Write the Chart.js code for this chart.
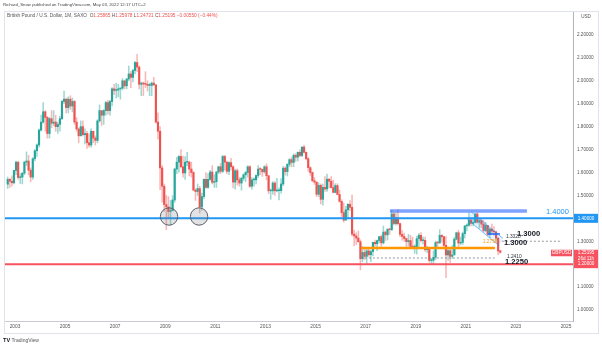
<!DOCTYPE html>
<html>
<head>
<meta charset="utf-8">
<script src="https://cdn.jsdelivr.net/npm/chart.js@4.4.1/dist/chart.umd.min.js"></script>
<style>
  body { margin: 0; background: #fff; font-family: "Liberation Sans", Arial, sans-serif; }
  #wrap { position: relative; width: 602px; height: 346px; overflow: hidden; }
  #chart { position: absolute; left: 0; top: 0; }
  .txt { position: absolute; white-space: nowrap; line-height: 1; }
  #pub { left: 3px; top: 3px; font-size: 4.3px; color: #444; }
  #legend { left: 7px; top: 14px; font-size: 4.75px; color: #555; }
  #legend .v { color: #ef5350; }
  #foot { left: 3px; top: 338px; font-size: 5px; color: #555; }
  #foot b { color: #131722; font-size: 5.6px; }
</style>
</head>
<body>
<div id="wrap">
  <canvas id="chart" width="602" height="346"></canvas>
  <div class="txt" id="pub">Richard_Snow published on TradingView.com, May 03, 2022 12:17 UTC+2</div>
  <div class="txt" id="legend">British Pound / U.S. Dollar, 1M, SAXO&nbsp; O<span class="v">1.25865</span> H<span class="v">1.25978</span> L<span class="v">1.24731</span> C<span class="v">1.25195</span> <span class="v">−0.00550 (−0.44%)</span></div>
  <div class="txt" id="foot"><b>TV</b> TradingView</div>
</div>
<script>
// GBP/USD monthly candles, Sep 2002 .. May 2022
const firstYear = 2002, firstMonth = 8; // September

const opens = [
  1.5490, 1.5700, 1.5620, 1.5550,
  1.6090, 1.6450, 1.5780, 1.5800, 1.5970, 1.6450, 1.6500, 1.6100, 1.5800, 1.6600, 1.6950, 1.7200,
  1.7850, 1.8200, 1.8650, 1.8400, 1.7700, 1.8350, 1.8150, 1.8200, 1.8000, 1.8100, 1.8350, 1.9100,
  1.9200, 1.8830, 1.9200, 1.8900, 1.9100, 1.8200, 1.7900, 1.7600, 1.8000, 1.7650, 1.7700, 1.7300,
  1.7200, 1.7800, 1.7500, 1.7400, 1.8250, 1.8700, 1.8500, 1.8700, 1.9050, 1.8700, 1.9100, 1.9650,
  1.9580, 1.9600, 1.9650, 1.9680, 2.0000, 1.9780, 2.0080, 2.0300, 2.0150, 2.0450, 2.0800, 2.0600,
  1.9850, 1.9900, 1.9860, 1.9850, 1.9800, 1.9800, 1.9900, 1.9820, 1.8200, 1.7800, 1.6200, 1.5400,
  1.4600, 1.4500, 1.4300, 1.4330, 1.4800, 1.6150, 1.6450, 1.6700, 1.6250, 1.5980, 1.6450, 1.6450,
  1.6150, 1.6000, 1.5230, 1.5170, 1.5300, 1.4500, 1.4950, 1.5700, 1.5350, 1.5700, 1.6020, 1.5570,
  1.5600, 1.6020, 1.6250, 1.6050, 1.6700, 1.6450, 1.6050, 1.6430, 1.6250, 1.5580, 1.6080, 1.5680,
  1.5540, 1.5750, 1.5900, 1.6000, 1.6250, 1.5400, 1.5680, 1.5680, 1.5870, 1.6150, 1.6140, 1.6030,
  1.6250, 1.5860, 1.5200, 1.5200, 1.5540, 1.5200, 1.5210, 1.5210, 1.5500, 1.6190, 1.6040, 1.6360,
  1.6560, 1.6440, 1.6750, 1.6670, 1.6880, 1.6740, 1.7110, 1.6880, 1.6600, 1.6210, 1.6000, 1.5640,
  1.5580, 1.5050, 1.5440, 1.4830, 1.5350, 1.5280, 1.5710, 1.5620, 1.5340, 1.5130, 1.5430, 1.5040,
  1.4740, 1.4250, 1.3920, 1.4370, 1.4610, 1.4480, 1.3310, 1.3230, 1.3140, 1.2980, 1.2240, 1.2510,
  1.2340, 1.2580, 1.2410, 1.2550, 1.2950, 1.2890, 1.3030, 1.3200, 1.2930, 1.3400, 1.3280, 1.3520,
  1.3510, 1.4190, 1.3770, 1.4020, 1.3770, 1.3300, 1.3210, 1.3120, 1.2980, 1.3030, 1.2770, 1.2750,
  1.2760, 1.3110, 1.3260, 1.3030, 1.3040, 1.2630, 1.2700, 1.2160, 1.2170, 1.2300, 1.2940, 1.2930,
  1.3260, 1.3200, 1.2820, 1.2400, 1.2590, 1.2340, 1.2400, 1.3090, 1.3370, 1.2920, 1.2950, 1.3330,
  1.3670, 1.3700, 1.3930, 1.3780, 1.3820, 1.4190, 1.3830, 1.3900, 1.3750, 1.3470, 1.3690, 1.3300,
  1.3530, 1.3440, 1.3410, 1.3130, 1.25865
];
const highs = [
  1.5800, 1.5750, 1.5850, 1.6100,
  1.6500, 1.6500, 1.5950, 1.6000, 1.6500, 1.6900, 1.6750, 1.6200, 1.6650, 1.7000, 1.7250, 1.7900,
  1.8500, 1.9050, 1.8700, 1.8450, 1.8400, 1.8700, 1.8700, 1.8500, 1.8200, 1.8450, 1.9150, 1.9550,
  1.9250, 1.9300, 1.9350, 1.9250, 1.9150, 1.8400, 1.7950, 1.8250, 1.8250, 1.7900, 1.7800, 1.7700,
  1.7900, 1.7800, 1.7600, 1.8300, 1.8950, 1.8700, 1.8750, 1.9100, 1.9150, 1.9150, 1.9700, 1.9850,
  1.9900, 1.9850, 1.9700, 2.0100, 2.0000, 2.0100, 2.0650, 2.0400, 2.0500, 2.0850, 2.1160, 2.0650,
  1.9950, 1.9950, 2.0400, 2.0000, 1.9900, 1.9950, 2.0150, 1.9850, 1.8600, 1.8000, 1.6300, 1.5500,
  1.5000, 1.4950, 1.4780, 1.4990, 1.6190, 1.6660, 1.6740, 1.7000, 1.6720, 1.6700, 1.6880, 1.6500,
  1.6450, 1.6050, 1.5300, 1.5500, 1.5400, 1.5100, 1.5720, 1.6000, 1.5950, 1.6100, 1.6300, 1.5900,
  1.6050, 1.6280, 1.6400, 1.6750, 1.6750, 1.6500, 1.6480, 1.6620, 1.6300, 1.6150, 1.6160, 1.5780,
  1.5800, 1.5950, 1.6050, 1.6300, 1.6300, 1.5780, 1.5770, 1.5900, 1.6300, 1.6220, 1.6150, 1.6300,
  1.6380, 1.5870, 1.5280, 1.5600, 1.5600, 1.5750, 1.5330, 1.5730, 1.6260, 1.6250, 1.6380, 1.6600,
  1.6670, 1.6820, 1.6820, 1.6900, 1.6990, 1.7120, 1.7190, 1.6900, 1.6650, 1.6250, 1.6020, 1.5780,
  1.5590, 1.5550, 1.5500, 1.5500, 1.5820, 1.5930, 1.5740, 1.5820, 1.5660, 1.5510, 1.5510, 1.5240,
  1.4810, 1.4670, 1.4520, 1.4640, 1.4770, 1.5020, 1.3480, 1.3370, 1.3450, 1.3060, 1.2770, 1.2700,
  1.2700, 1.2710, 1.2620, 1.2960, 1.3050, 1.3050, 1.3210, 1.3270, 1.3660, 1.3450, 1.3550, 1.3550,
  1.4350, 1.4250, 1.4240, 1.4380, 1.3790, 1.3470, 1.3360, 1.3150, 1.3300, 1.3260, 1.3180, 1.2840,
  1.3220, 1.3350, 1.3380, 1.3190, 1.3180, 1.2780, 1.2660, 1.2250, 1.2580, 1.3010, 1.2990, 1.3510,
  1.3280, 1.3200, 1.3200, 1.2650, 1.2650, 1.2810, 1.3170, 1.3400, 1.3480, 1.3180, 1.3400, 1.3680,
  1.3760, 1.4240, 1.4000, 1.4010, 1.4220, 1.4250, 1.3980, 1.3960, 1.3910, 1.3830, 1.3700, 1.3550,
  1.3750, 1.3640, 1.3440, 1.3170, 1.25978
];
const lows = [
  1.5300, 1.5350, 1.5400, 1.5500,
  1.5900, 1.5700, 1.5520, 1.5500, 1.5900, 1.6300, 1.5900, 1.5600, 1.5700, 1.6500, 1.6700, 1.7100,
  1.7800, 1.8150, 1.7800, 1.7500, 1.7500, 1.7950, 1.8050, 1.7800, 1.7700, 1.7800, 1.8300, 1.9000,
  1.8600, 1.8600, 1.8750, 1.8650, 1.8100, 1.7800, 1.7300, 1.7600, 1.7600, 1.7250, 1.7050, 1.7100,
  1.7100, 1.7300, 1.7200, 1.7300, 1.8200, 1.8050, 1.8100, 1.8500, 1.8550, 1.8500, 1.8900, 1.9400,
  1.9250, 1.9300, 1.9200, 1.9600, 1.9650, 1.9650, 2.0000, 1.9700, 1.9950, 2.0300, 2.0400, 1.9650,
  1.9350, 1.9350, 1.9700, 1.9550, 1.9350, 1.9350, 1.9800, 1.8150, 1.7450, 1.5250, 1.4700, 1.4300,
  1.3500, 1.3980, 1.3700, 1.4350, 1.4700, 1.5950, 1.6000, 1.6200, 1.5800, 1.5700, 1.6300, 1.5850,
  1.5800, 1.5200, 1.4780, 1.5000, 1.4230, 1.4350, 1.4850, 1.5300, 1.5300, 1.5650, 1.5500, 1.5350,
  1.5350, 1.5950, 1.5950, 1.6000, 1.6100, 1.5950, 1.5900, 1.6100, 1.5330, 1.5270, 1.5450, 1.5400,
  1.5230, 1.5650, 1.5600, 1.5800, 1.5350, 1.5270, 1.5400, 1.5500, 1.5780, 1.5900, 1.5830, 1.5970,
  1.5680, 1.5080, 1.4830, 1.5050, 1.5000, 1.5150, 1.4800, 1.5100, 1.5430, 1.5890, 1.5850, 1.6250,
  1.6250, 1.6250, 1.6480, 1.6500, 1.6690, 1.6690, 1.6850, 1.6550, 1.6050, 1.5870, 1.5590, 1.5480,
  1.4950, 1.4950, 1.4630, 1.4570, 1.5170, 1.5170, 1.5330, 1.5330, 1.5110, 1.5110, 1.5030, 1.4700,
  1.4080, 1.3840, 1.3940, 1.4000, 1.4330, 1.3230, 1.2800, 1.2860, 1.2960, 1.1750, 1.2100, 1.2200,
  1.1990, 1.2340, 1.2110, 1.2360, 1.2770, 1.2590, 1.2930, 1.2770, 1.2880, 1.3030, 1.3060, 1.3300,
  1.3460, 1.3710, 1.3700, 1.3710, 1.3200, 1.3050, 1.3000, 1.2660, 1.2790, 1.2700, 1.2720, 1.2470,
  1.2440, 1.2770, 1.2960, 1.2870, 1.2560, 1.2500, 1.2080, 1.2010, 1.2000, 1.2200, 1.2770, 1.2900,
  1.2960, 1.2720, 1.1410, 1.2160, 1.2080, 1.2250, 1.2480, 1.3060, 1.2680, 1.2840, 1.2860, 1.3140,
  1.3450, 1.3650, 1.3670, 1.3670, 1.3800, 1.3790, 1.3570, 1.3600, 1.3410, 1.3420, 1.3240, 1.3160,
  1.3360, 1.3270, 1.3000, 1.2410, 1.24731
];
const closes = [
  1.5700, 1.5620, 1.5550, 1.6090,
  1.6450, 1.5780, 1.5800, 1.5970, 1.6450, 1.6500, 1.6100, 1.5800, 1.6600, 1.6950, 1.7200, 1.7850,
  1.8200, 1.8650, 1.8400, 1.7700, 1.8350, 1.8150, 1.8200, 1.8000, 1.8100, 1.8350, 1.9100, 1.9200,
  1.8830, 1.9200, 1.8900, 1.9100, 1.8200, 1.7900, 1.7600, 1.8000, 1.7650, 1.7700, 1.7300, 1.7200,
  1.7800, 1.7500, 1.7400, 1.8250, 1.8700, 1.8500, 1.8700, 1.9050, 1.8700, 1.9100, 1.9650, 1.9580,
  1.9600, 1.9650, 1.9680, 2.0000, 1.9780, 2.0080, 2.0300, 2.0150, 2.0450, 2.0800, 2.0600, 1.9850,
  1.9900, 1.9860, 1.9850, 1.9800, 1.9800, 1.9900, 1.9820, 1.8200, 1.7800, 1.6200, 1.5400, 1.4600,
  1.4500, 1.4300, 1.4330, 1.4800, 1.6150, 1.6450, 1.6700, 1.6250, 1.5980, 1.6450, 1.6450, 1.6150,
  1.6000, 1.5230, 1.5170, 1.5300, 1.4500, 1.4950, 1.5700, 1.5350, 1.5700, 1.6020, 1.5570, 1.5600,
  1.6020, 1.6250, 1.6050, 1.6700, 1.6450, 1.6050, 1.6430, 1.6250, 1.5580, 1.6080, 1.5680, 1.5540,
  1.5750, 1.5900, 1.6000, 1.6250, 1.5400, 1.5680, 1.5680, 1.5870, 1.6150, 1.6140, 1.6030, 1.6250,
  1.5860, 1.5200, 1.5200, 1.5540, 1.5200, 1.5210, 1.5210, 1.5500, 1.6190, 1.6040, 1.6360, 1.6560,
  1.6440, 1.6750, 1.6670, 1.6880, 1.6740, 1.7110, 1.6880, 1.6600, 1.6210, 1.6000, 1.5640, 1.5580,
  1.5050, 1.5440, 1.4830, 1.5350, 1.5280, 1.5710, 1.5620, 1.5340, 1.5130, 1.5430, 1.5040, 1.4740,
  1.4250, 1.3920, 1.4370, 1.4610, 1.4480, 1.3310, 1.3230, 1.3140, 1.2980, 1.2240, 1.2510, 1.2340,
  1.2580, 1.2410, 1.2550, 1.2950, 1.2890, 1.3030, 1.3200, 1.2930, 1.3400, 1.3280, 1.3520, 1.3510,
  1.4190, 1.3770, 1.4020, 1.3770, 1.3300, 1.3210, 1.3120, 1.2980, 1.3030, 1.2770, 1.2750, 1.2760,
  1.3110, 1.3260, 1.3030, 1.3040, 1.2630, 1.2700, 1.2160, 1.2170, 1.2300, 1.2940, 1.2930, 1.3260,
  1.3200, 1.2820, 1.2400, 1.2590, 1.2340, 1.2400, 1.3090, 1.3370, 1.2920, 1.2950, 1.3330, 1.3670,
  1.3700, 1.3930, 1.3780, 1.3820, 1.4190, 1.3830, 1.3900, 1.3750, 1.3470, 1.3690, 1.3300, 1.3530,
  1.3440, 1.3410, 1.3130, 1.2575, 1.25195
];

// axis ranges and ticks
const xMin = 2002.56, xMax = 2025.28;
const yMin = 0.952, yMax = 2.3047;
const yearTicks = [2003, 2005, 2007, 2009, 2011, 2013, 2015, 2017, 2019, 2021, 2023, 2025];
const priceTicks = [1.0, 1.1, 1.2, 1.3, 1.4, 1.5, 1.6, 1.7, 1.8, 1.9, 2.0, 2.1, 2.2];

// drawings on the chart (time in years, price)
const support = 1.4, floor = 1.2;
const topBand = [[2017.97, 1.432], [2023.44, 1.432]];
const orangeLine = [[2016.81, 1.2705], [2022.16, 1.2705]];
const lowDash = [[2016.81, 1.227], [2022.15, 1.227]];
const midDash = [[2022.44, 1.30], [2024.84, 1.30]];
const shortBlue = [[2021.88, 1.3316], [2022.36, 1.3316]];
const channel = [[2021.22, 1.428], [2022.48, 1.313], [2022.33, 1.280], [2021.07, 1.395]];
const circles = [[2009.15, 1.408], [2010.35, 1.408]];
const notes = [
  { t: 2024.2, p: 1.428, text: '1.4000', kind: 'blue' },
  { t: 2023.04, p: 1.3316, text: '1.3000', kind: 'big' },
  { t: 2022.6, p: 1.3185, text: '1.3328', kind: 'small' },
  { t: 2021.68, p: 1.2967, text: '1.2750', kind: 'orange' },
  { t: 2022.52, p: 1.2924, text: '1.3000', kind: 'big' },
  { t: 2022.64, p: 1.2313, text: '1.2410', kind: 'small' },
  { t: 2022.56, p: 1.2094, text: '1.2250', kind: 'big' }
];
const lastPrice = 1.25195, countdown = '26d 11h', symbol = 'GBPUSD';

const UP = '#26a69a', DOWN = '#ef5350';
const times = closes.map((c, i) => firstYear + (firstMonth + i + 0.5) / 12);
const isUp = closes.map((c, i) => c >= opens[i]);

const pts = arr => arr.map(([t, p]) => ({ x: t, y: p }));
const level = (data, color, width, dash) => ({
  type: 'line', data: pts(data), borderColor: color, borderWidth: width,
  borderDash: dash || [], pointRadius: 0, order: 0, clip: false
});

const overlay = {
  id: 'overlay',
  afterDatasetsDraw(chart) {
    const { ctx, scales: { x, y } } = chart;
    ctx.save();
    // falling channel
    ctx.beginPath();
    channel.forEach(([t, p], i) => {
      const px = x.getPixelForValue(t), py = y.getPixelForValue(p);
      i ? ctx.lineTo(px, py) : ctx.moveTo(px, py);
    });
    ctx.closePath();
    ctx.fillStyle = 'rgba(33,150,243,0.12)';
    ctx.fill();
    ctx.strokeStyle = 'rgba(33,150,243,0.75)';
    ctx.lineWidth = 0.8;
    ctx.beginPath();
    ctx.moveTo(x.getPixelForValue(channel[0][0]), y.getPixelForValue(channel[0][1]));
    ctx.lineTo(x.getPixelForValue(channel[1][0]), y.getPixelForValue(channel[1][1]));
    ctx.moveTo(x.getPixelForValue(channel[3][0]), y.getPixelForValue(channel[3][1]));
    ctx.lineTo(x.getPixelForValue(channel[2][0]), y.getPixelForValue(channel[2][1]));
    ctx.stroke();

    // circled double bottom
    circles.forEach(([t, p]) => {
      ctx.beginPath();
      ctx.arc(x.getPixelForValue(t), y.getPixelForValue(p), 8.7, 0, Math.PI * 2);
      ctx.fillStyle = 'rgba(120,123,134,0.22)';
      ctx.fill();
      ctx.strokeStyle = '#5d606b';
      ctx.lineWidth = 1;
      ctx.stroke();
    });

    // level notes
    ctx.textBaseline = 'middle';
    ctx.textAlign = 'left';
    notes.forEach(n => {
      if (n.kind === 'blue') { ctx.font = '7.5px "Liberation Sans"'; ctx.fillStyle = '#2196f3'; }
      else if (n.kind === 'big') { ctx.font = 'bold 7.6px "Liberation Sans"'; ctx.fillStyle = '#131722'; }
      else if (n.kind === 'orange') { ctx.font = '4.8px "Liberation Sans"'; ctx.fillStyle = '#ff9800'; }
      else { ctx.font = '4.8px "Liberation Sans"'; ctx.fillStyle = '#2a2e39'; }
      ctx.fillText(n.text, x.getPixelForValue(n.t), y.getPixelForValue(n.p));
    });
    ctx.restore();
  },
  afterDraw(chart) {
    const { ctx, chartArea: a, scales: { y } } = chart;
    ctx.save();
    // outer frame
    ctx.strokeStyle = '#e0e3eb';
    ctx.lineWidth = 1;
    ctx.strokeRect(a.left + 0.5, a.top + 0.5, 598 - a.left, 333 - a.top);

    const boxL = a.right + 1, boxW = 24;
    ctx.textAlign = 'center';
    ctx.textBaseline = 'middle';
    ctx.font = '4.6px "Liberation Sans"';

    // 1.4 label
    const p14 = y.getPixelForValue(support);
    ctx.fillStyle = '#2196f3';
    ctx.fillRect(boxL, p14 - 4.5, boxW, 9);
    ctx.fillStyle = '#fff';
    ctx.fillText(support.toFixed(5), boxL + boxW / 2, p14);

    // last price + countdown
    const pl = y.getPixelForValue(lastPrice);
    ctx.fillStyle = '#f7525f';
    ctx.fillRect(boxL, pl - 2.5, boxW, 11);
    ctx.fillStyle = '#fff';
    ctx.fillText(lastPrice.toFixed(5), boxL + boxW / 2, pl + 0.5);
    ctx.fillText(countdown, boxL + boxW / 2, pl + 6);

    // 1.2 label
    const p12 = y.getPixelForValue(floor);
    ctx.fillStyle = '#f7525f';
    ctx.fillRect(boxL, p12 - 4, boxW, 8);
    ctx.fillStyle = '#fff';
    ctx.fillText(floor.toFixed(5), boxL + boxW / 2, p12);

    // symbol tag
    ctx.fillStyle = '#f7525f';
    ctx.fillRect(a.right - 22, pl - 2.5, 21, 6.5);
    ctx.fillStyle = '#fff';
    ctx.fillText(symbol, a.right - 11.5, pl + 0.8);

    // currency
    ctx.fillStyle = '#fff';
    ctx.fillRect(boxL, a.top + 1, boxW, 9);
    ctx.fillStyle = '#555';
    ctx.fillText('USD', boxL + boxW / 2, a.top + 6);
    ctx.restore();
  }
};

new Chart(document.getElementById('chart'), {
  type: 'bar',
  data: {
    datasets: [
      level([[xMin, support], [xMax, support]], '#2196f3', 2),
      level([[xMin, floor], [xMax, floor]], '#f7525f', 2),
      level(topBand, 'rgba(41,98,255,0.6)', 3.5),
      level(orangeLine, '#ff9800', 2.5),
      level(lowDash, '#787b86', 0.8, [2, 2]),
      level(midDash, '#787b86', 0.8, [2, 2]),
      level(shortBlue, '#2962ff', 1.6),
      {
        label: 'bodies',
        data: times.map((t, i) => ({ x: t, y: [opens[i], closes[i]] })),
        backgroundColor: times.map((t, i) => isUp[i] ? UP : DOWN),
        barThickness: 1.5,
        minBarLength: 0.8,
        grouped: false,
        order: 2
      },
      {
        label: 'wicks',
        data: times.map((t, i) => ({ x: t, y: [lows[i], highs[i]] })),
        backgroundColor: times.map((t, i) => isUp[i] ? 'rgba(38,166,154,0.45)' : 'rgba(239,83,80,0.42)'),
        barThickness: 0.9,
        grouped: false,
        order: 3
      }
    ]
  },
  options: {
    responsive: false,
    animation: false,
    devicePixelRatio: 1,
    layout: { padding: { left: 4, top: 11, right: 4, bottom: 13 } },
    plugins: { legend: { display: false }, tooltip: { enabled: false } },
    scales: {
      x: {
        type: 'linear', min: xMin, max: xMax, offset: false,
        grid: { display: false, drawTicks: false },
        border: { color: '#c9cbd1' },
        afterBuildTicks: s => { s.ticks = yearTicks.map(v => ({ value: v })); },
        afterFit: s => { s.height = 12; },
        ticks: { color: '#555', font: { family: 'Liberation Sans', size: 4.8 }, padding: 3, maxRotation: 0, autoSkip: false, callback: v => String(v) }
      },
      y: {
        position: 'right', min: yMin, max: yMax,
        grid: { display: false, drawTicks: false },
        border: { color: '#b2b5be' },
        afterBuildTicks: s => { s.ticks = priceTicks.map(v => ({ value: v })); },
        afterFit: s => { s.width = 25; },
        ticks: { color: '#555', font: { family: 'Liberation Sans', size: 4.6 }, padding: 4, autoSkip: false, callback: v => v.toFixed(5) }
      }
    }
  },
  plugins: [overlay]
});
</script>
</body>
</html>
